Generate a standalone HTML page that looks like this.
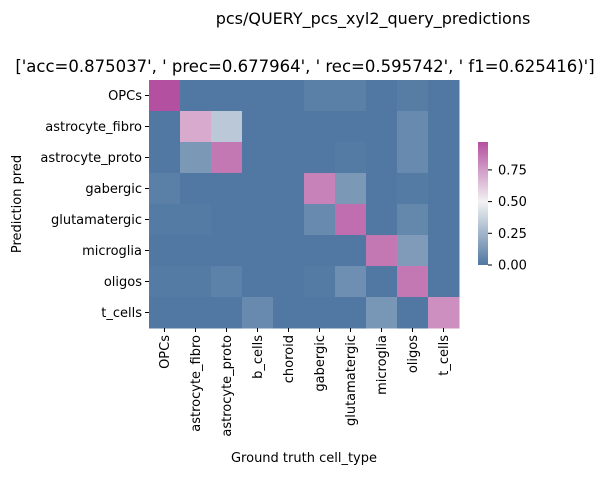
<!DOCTYPE html>
<html><head><meta charset="utf-8"><style>
body{margin:0;background:#fff;font-family:"Liberation Sans","DejaVu Sans",sans-serif;}
svg text{font-family:"DejaVu Sans","Liberation Sans",sans-serif;fill:#000;}
</style></head><body>
<svg id="c" width="607" height="476">
<defs><linearGradient id="cb" x1="0" y1="1" x2="0" y2="0">
<stop offset="0" stop-color="rgb(80,120,162)"/><stop offset="0.515" stop-color="rgb(242,242,242)"/><stop offset="1" stop-color="rgb(180,80,160)"/>
</linearGradient></defs>
<text x="373" y="24" font-size="16" text-anchor="middle">pcs/QUERY_pcs_xyl2_query_predictions</text>
<text x="305" y="72" font-size="16.5" text-anchor="middle">['acc=0.875037', '  prec=0.677964', ' rec=0.595742', ' f1=0.625416)']</text>
<g id="cells"></g>
<g id="ticks"></g>
<text transform="translate(21,204) rotate(-90)" font-size="13" text-anchor="middle">Prediction pred</text>
<text x="304" y="462" font-size="13" text-anchor="middle">Ground truth cell_type</text>
<rect x="478" y="142" width="10" height="123" fill="url(#cb)"/>
<g id="cbt"></g>
</svg>
<script>
const rowLabels=["OPCs","astrocyte_fibro","astrocyte_proto","gabergic","glutamatergic","microglia","oligos","t_cells"];
const colLabels=["OPCs","astrocyte_fibro","astrocyte_proto","b_cells","choroid","gabergic","glutamatergic","microglia","oligos","t_cells"];
const values=[
[0.97,0,0,0,0,0.03,0.03,0,0.02,0],
[0,0.7,0.32,0,0,0,0,0,0.07,0],
[0,0.13,0.85,0,0,0,0.01,0,0.07,0],
[0.03,0,0,0,0,0.82,0.13,0,0.01,0],
[0.01,0.01,0,0,0,0.07,0.88,0,0.06,0],
[0,0,0,0,0,0,0,0.85,0.14,0],
[0.01,0.01,0.04,0,0,0.01,0.09,0,0.85,0],
[0,0,0,0.07,0,0,0,0.12,0,0.78]];
const cbTicks=[0,0.25,0.5,0.75];
const vmax=0.97;
const X0=149,X1=459,Y0=80,Y1=328;
const cw=(X1-X0)/colLabels.length, ch=(Y1-Y0)/rowLabels.length;
function color(v){let t=Math.max(0,Math.min(1,v/vmax));
 const a=[80,120,162],m=[242,242,242],b=[180,80,160];let p,q,s;
 if(t<0.5){p=a;q=m;s=t/0.5}else{p=m;q=b;s=(t-0.5)/0.5}
 return `rgb(${p.map((x,i)=>Math.round(x+(q[i]-x)*s)).join(',')})`;}
const NS="http://www.w3.org/2000/svg";
const cells=document.getElementById('cells'),ticks=document.getElementById('ticks'),cbt=document.getElementById('cbt');
function mk(tag,attrs,parent,txt){const e=document.createElementNS(NS,tag);for(const k in attrs)e.setAttribute(k,attrs[k]);if(txt!==undefined)e.textContent=txt;parent.appendChild(e);return e;}
values.forEach((row,i)=>row.forEach((v,j)=>{
 const r=mk('rect',{x:X0+j*cw,y:Y0+i*ch,width:cw+0.5,height:ch+0.5,fill:color(v)},cells);
 
 
}));
rowLabels.forEach((l,i)=>{const y=Y0+(i+0.5)*ch;
 mk('line',{x1:X0-4,x2:X0,y1:y,y2:y,stroke:'#000','stroke-width':1},ticks);
 const t=mk('text',{x:X0-7,y:y+4.5,'font-size':13,'text-anchor':'end'},ticks,l);
 
 
});
colLabels.forEach((l,j)=>{const x=X0+(j+0.5)*cw;
 mk('line',{x1:x,x2:x,y1:Y1,y2:Y1+4,stroke:'#000','stroke-width':1},ticks);
 const t=mk('text',{transform:`translate(${x+4.5},${Y1+7}) rotate(-90)`,'font-size':13,'text-anchor':'end'},ticks,l);
 
 
});
cbTicks.forEach(v=>{const y=265-(v/vmax)*123;
 mk('line',{x1:488,x2:492,y1:y,y2:y,stroke:'#000','stroke-width':1},cbt);
 const t=mk('text',{x:498,y:y+4.5,'font-size':13},cbt,v.toFixed(2));
 
 
});
</script>
</body></html>
